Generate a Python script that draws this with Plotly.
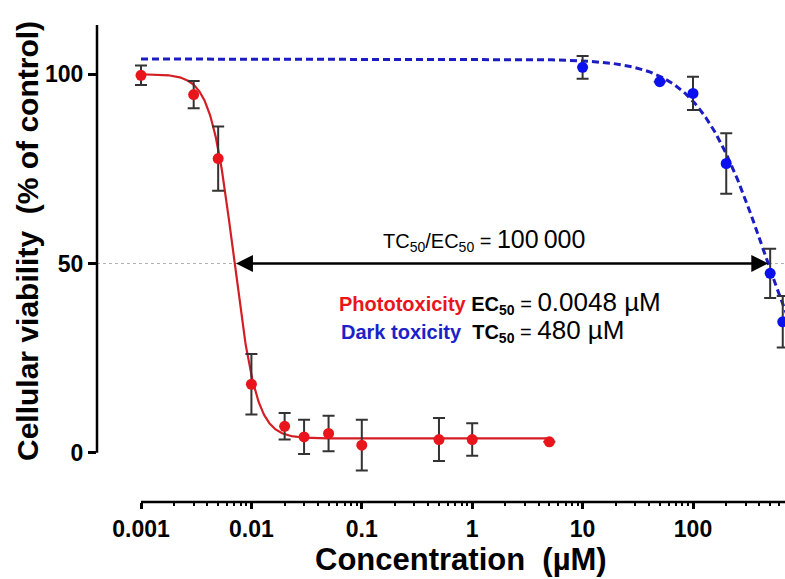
import numpy as np
import plotly.graph_objects as go

# Phototoxicity (irradiated) measurements
red_conc = [0.001, 0.003, 0.005, 0.01, 0.02, 0.03, 0.05, 0.1, 0.5, 1, 5]
red_viab = [99.7, 94.6, 77.7, 18.1, 7.0, 4.2, 5.1, 2.0, 3.5, 3.5, 2.9]
red_err = [2.6, 3.6, 8.5, 8.0, 3.5, 4.5, 4.7, 6.7, 5.7, 4.3, 0]

# Dark toxicity measurements
blue_conc = [10, 50, 100, 200, 500, 650]
blue_viab = [101.8, 98.0, 94.9, 76.4, 47.4, 34.6]
blue_err = [3.0, 0, 4.4, 8.0, 6.5, 6.8]

# Fitted dose-response parameters
red_top, red_bottom, red_mid, red_hill = 100.0, 3.8, 0.0069, 4.2
blue_top, TC50, blue_hill = 104.0, 480.0, 1.4

x_ticks = [0.001, 0.01, 0.1, 1, 10, 100]
x_ticktext = ["0.001", "0.01", "0.1", "1", "10", "100"]
y_ticks = [0, 50, 100]

X_RANGE = [-3.3986, 2.8333]
Y_RANGE = [-13.0, 114.3]

RED = "#e8161c"
RED_LINE = "#d21e24"
BLUE = "#0a10ee"
BLUE_LINE = "#1c1cc4"
FONT = "Liberation Sans, Arial, sans-serif"


def red_fit(x):
    return red_bottom + (red_top - red_bottom) / (1 + (x / red_mid) ** red_hill)


def blue_fit(x):
    return blue_top / (1 + (blue_top / 50 - 1) * (x / TC50) ** blue_hill)


red_x = np.logspace(np.log10(red_conc[0]), np.log10(red_conc[-1]), 600)
blue_x = np.logspace(-3, X_RANGE[1] + 0.05, 600)

# x where the phototoxicity fit crosses 50 %
ec_cross = red_mid * ((red_top - red_bottom) / (50 - red_bottom) - 1) ** (1 / red_hill)

fig = go.Figure()

fig.add_trace(go.Scatter(x=blue_x, y=blue_fit(blue_x), mode="lines",
                         line=dict(color=BLUE_LINE, width=3, dash="7px,4px"),
                         hoverinfo="skip", showlegend=False))
fig.add_trace(go.Scatter(x=red_x, y=red_fit(red_x), mode="lines",
                         line=dict(color=RED_LINE, width=2.2),
                         hoverinfo="skip", showlegend=False))

err_style = dict(type="data", thickness=2, width=6, color="#333333")
fig.add_trace(go.Scatter(x=red_conc, y=red_viab, mode="markers",
                         marker=dict(color=RED, size=11),
                         error_y=dict(array=red_err, visible=True, **err_style),
                         showlegend=False, cliponaxis=False))
fig.add_trace(go.Scatter(x=blue_conc, y=blue_viab, mode="markers",
                         marker=dict(color=BLUE, size=11),
                         error_y=dict(array=blue_err, visible=True, **err_style),
                         showlegend=False))


def xpaper(v):
    return (np.log10(v) - X_RANGE[0]) / (X_RANGE[1] - X_RANGE[0])


shapes = [
    # separated y axis line (0 to top)
    dict(type="line", xref="paper", yref="y", x0=0, x1=0, y0=0, y1=113,
         line=dict(color="black", width=2.5)),
    # x axis line starting at the first concentration
    dict(type="line", xref="paper", yref="paper", x0=xpaper(0.001), x1=1, y0=0, y1=0,
         line=dict(color="black", width=2.5)),
    # 50 % reference line
    dict(type="line", xref="paper", yref="y", x0=0, x1=1, y0=50, y1=50,
         line=dict(color="#b0b0b0", width=1, dash="dot"), layer="below"),
]

annotations = [
    dict(x=np.log10(TC50), y=50, ax=np.log10(ec_cross), ay=50, xref="x", yref="y",
         axref="x", ayref="y", text="", showarrow=True, arrowhead=2, arrowside="end+start",
         arrowsize=1.3, arrowwidth=2.6, arrowcolor="black", standoff=0, startstandoff=0),
    dict(x=0.111, y=56.2, xref="x", yref="y", showarrow=False, xanchor="center",
         text='TC<sub>50</sub>/EC<sub>50</sub> = <span style="font-size:25px">100\u2009000</span>',
         font=dict(family=FONT, size=20, color="black")),
    dict(x=-1.225, y=39.6, xref="x", yref="y", showarrow=False, xanchor="left",
         text=f'<b><span style="color:{RED}">Phototoxicity</span> EC<sub>50</sub></b> = '
              '<span style="font-size:26px">0.0048 µM</span>',
         font=dict(family=FONT, size=20, color="black")),
    dict(x=-1.207, y=32.4, xref="x", yref="y", showarrow=False, xanchor="left",
         text=f'<b><span style="color:#1a22c8">Dark toxicity</span>\u00a0 TC<sub>50</sub></b> = '
              '<span style="font-size:26px">480 µM</span>',
         font=dict(family=FONT, size=20, color="black")),
    # axis titles
    dict(x=0.529, y=-0.120, xref="paper", yref="paper", showarrow=False,
         text="<b>Concentration\u00a0 (µM)</b>", xanchor="center", yanchor="middle",
         font=dict(family=FONT, size=31, color="black")),
    dict(x=-0.1003, y=0.5415, xref="paper", yref="paper", showarrow=False, textangle=-90,
         text="<b>Cellular viability\u00a0 (% of control)</b>", xanchor="center", yanchor="middle",
         font=dict(family=FONT, size=30, color="black")),
]

minor_vals = [m * 10 ** e for e in range(-3, 3) for m in range(2, 10)]

fig.update_layout(
    width=785, height=579,
    margin=dict(l=97, r=0, t=20, b=77, pad=0),
    paper_bgcolor="white", plot_bgcolor="white",
    shapes=shapes, annotations=annotations,
    showlegend=False,
    xaxis=dict(type="log", range=X_RANGE, showgrid=False, zeroline=False, showline=False,
               tickmode="array", tickvals=x_ticks, ticktext=x_ticktext,
               ticks="outside", ticklen=6, tickwidth=2.5, tickcolor="black",
               minor=dict(tickmode="array", tickvals=minor_vals, ticks="outside",
                          ticklen=3, tickwidth=2, tickcolor="black", showgrid=False),
               tickfont=dict(family=FONT, size=23, color="black", weight="bold")),
    yaxis=dict(range=Y_RANGE, showgrid=False, zeroline=False, showline=False,
               tickmode="array", tickvals=y_ticks,
               ticks="outside", ticklen=8, tickwidth=2.5, tickcolor="black",
               tickfont=dict(family=FONT, size=23, color="black", weight="bold")),
)

fig.write_html("out.html")
